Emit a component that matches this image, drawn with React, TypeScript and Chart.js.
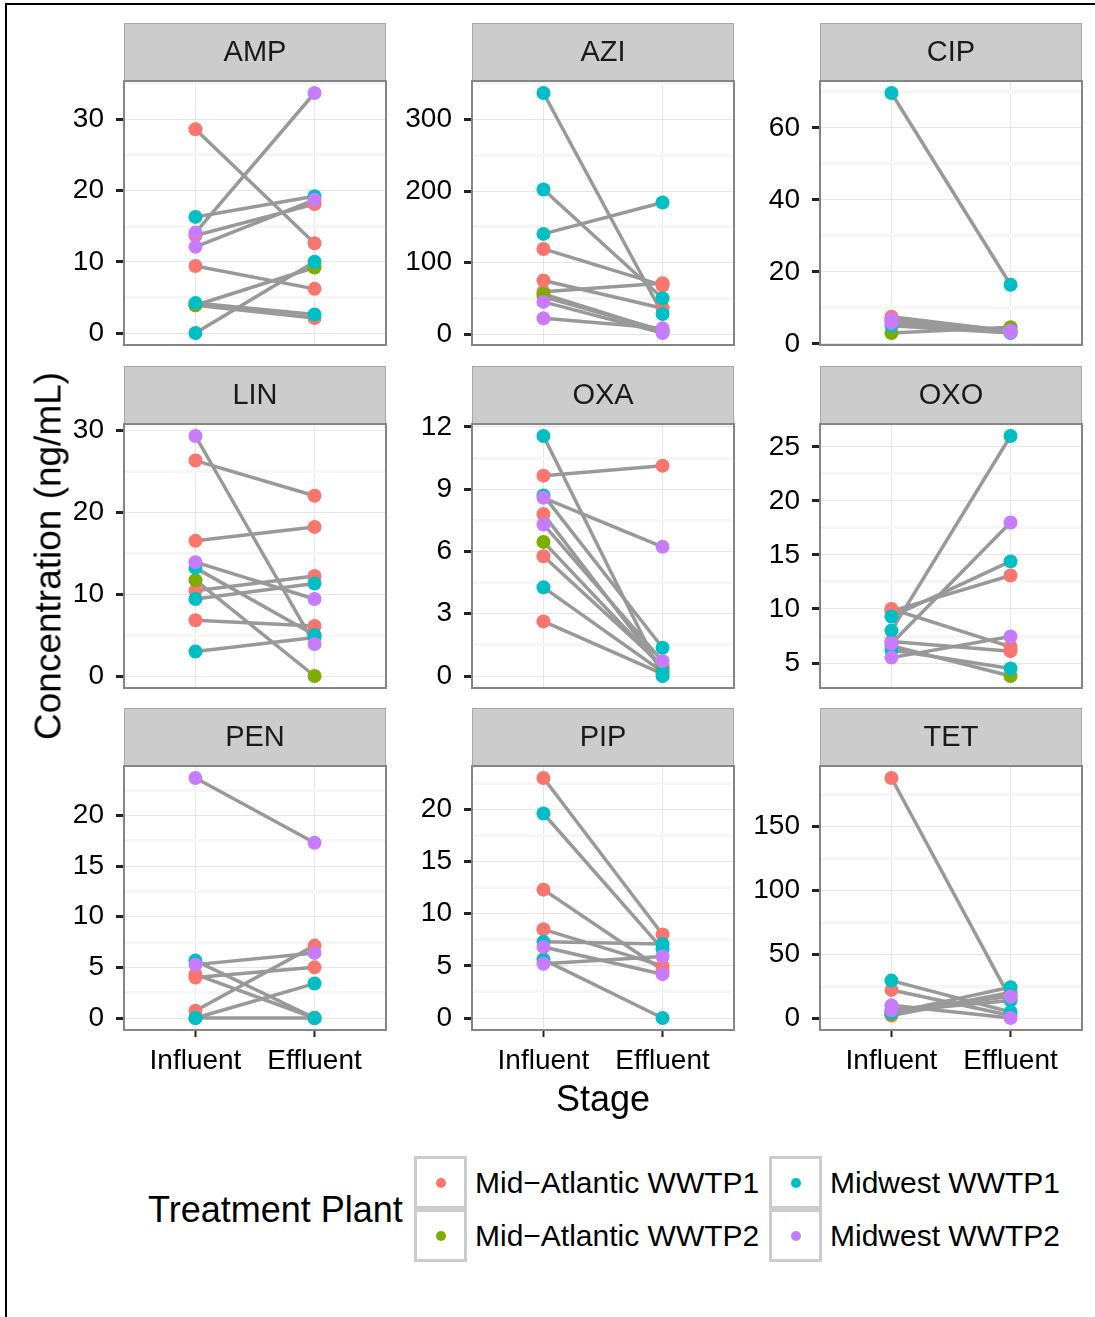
import React, { useEffect, useRef } from "react";
import { Chart, registerables } from "chart.js";

Chart.register(...registerables);

// ---- data -----------------------------------------------------------------
const plantNames = ["Mid\u2212Atlantic WWTP1", "Mid\u2212Atlantic WWTP2", "Midwest WWTP1", "Midwest WWTP2"];
const plantColors = ["#F8766D", "#7CAE00", "#00BFC4", "#C77CFF"];
const stageLabels = ["Influent", "Effluent"];
const antibiotics = ["AMP", "AZI", "CIP", "LIN", "OXA", "OXO", "PEN", "PIP", "TET"];
const tickSteps = [10, 100, 20, 10, 3, 5, 5, 5, 50];

// plant index (into plantNames), influent and effluent concentration per sample
const ampPlant = [0, 0, 0, 0, 1, 2, 2, 2, 3, 3];
const ampInfluent = [28.6, 13.7, 9.4, 3.9, 3.9, 16.3, 4.2, 0, 14.1, 12.1];
const ampEffluent = [12.6, 18.1, 6.2, 2.1, 9.2, 19.2, 2.6, 10.0, 33.7, 18.7];

const aziPlant = [0, 0, 0, 0, 1, 2, 2, 2, 3, 3];
const aziInfluent = [119, 75, 59, 52, 56, 337, 202, 140, 45, 22];
const aziEffluent = [68, 36, 71, 5, 4, 28, 50, 184, 1.5, 8];

const cipPlant = [0, 0, 1, 2, 2, 3, 3];
const cipInfluent = [7.5, 6.2, 3.0, 69.7, 5.0, 5.8, 6.8];
const cipEffluent = [3.5, 3.1, 4.6, 16.4, 3.0, 3.2, 3.7];

const linPlant = [0, 0, 0, 0, 1, 2, 2, 2, 3, 3];
const linInfluent = [26.3, 16.5, 10.4, 6.8, 11.7, 13.2, 9.4, 3.0, 29.3, 13.9];
const linEffluent = [22.0, 18.2, 12.2, 6.1, 0, 5.0, 11.3, 4.7, 3.9, 9.4];

const oxaPlant = [0, 0, 0, 0, 1, 2, 2, 2, 3, 3];
const oxaInfluent = [9.65, 7.8, 5.77, 2.63, 6.46, 11.56, 8.7, 4.27, 8.58, 7.3];
const oxaEffluent = [10.13, 0.3, 0.5, 0.1, 0.4, 0, 1.36, 0.2, 6.22, 0.72];

const oxoPlant = [0, 0, 0, 1, 2, 2, 2, 3, 3];
const oxoInfluent = [10.0, 9.8, 7.0, 6.6, 9.3, 8.0, 6.2, 6.8, 5.5];
const oxoEffluent = [6.5, 13.1, 6.1, 3.8, 14.4, 26.0, 4.5, 18.0, 7.45];

const penPlant = [0, 0, 0, 2, 2, 2, 3, 3];
const penInfluent = [4.3, 4.0, 0.72, 5.67, 0, 0, 23.7, 5.27];
const penEffluent = [0, 5.0, 7.15, 0, 3.4, 0, 17.3, 6.43];

const pipPlant = [0, 0, 0, 2, 2, 2, 3, 3];
const pipInfluent = [23.0, 12.3, 8.5, 19.6, 7.3, 5.6, 6.8, 5.2];
const pipEffluent = [8.0, 4.6, 5.0, 6.6, 7.1, 0, 4.2, 5.9];

const tetPlant = [0, 0, 0, 1, 2, 2, 2, 3, 3];
const tetInfluent = [188, 22, 2, 3, 29.3, 4, 5, 9.9, 6];
const tetEffluent = [15, 2, 20, 18, 4.7, 24.1, 13.8, 0, 16.9];

const panelPlants = [ampPlant, aziPlant, cipPlant, linPlant, oxaPlant, oxoPlant, penPlant, pipPlant, tetPlant];
const panelInfluent = [ampInfluent, aziInfluent, cipInfluent, linInfluent, oxaInfluent, oxoInfluent, penInfluent, pipInfluent, tetInfluent];
const panelEffluent = [ampEffluent, aziEffluent, cipEffluent, linEffluent, oxaEffluent, oxoEffluent, penEffluent, pipEffluent, tetEffluent];

// ---- layout & style ---------------------------------------------------------
const FONT = '"Liberation Sans", Arial, Helvetica, sans-serif';
const COL_LEFT = [124, 472, 820];
const ROW_TOP = [23, 366, 708];
const PANEL_W = 263;
const PANEL_H = 264;
const STRIP_H = 58;
const Y_AXIS_W = 100;
const RIGHT_PAD = 6;
const LINE_COLOR = "#999999";
const MAJOR_GRID = "#E6E6E6";
const MINOR_GRID = "#F6F6F6";

function framePlugin(label: string) {
  return {
    id: "facetFrame",
    afterDraw(chart: any) {
      const { ctx, chartArea } = chart;
      const { left, right, top, bottom } = chartArea;
      ctx.save();
      // strip header
      ctx.fillStyle = "#CCCCCC";
      ctx.fillRect(left, 0.5, right - left, STRIP_H - 0.5);
      ctx.strokeStyle = "#A8A8A8";
      ctx.lineWidth = 1;
      ctx.strokeRect(left + 0.5, 0.5, right - left - 1, STRIP_H - 1);
      ctx.fillStyle = "#1A1A1A";
      ctx.font = `29px ${FONT}`;
      ctx.textAlign = "center";
      ctx.textBaseline = "middle";
      ctx.fillText(label, (left + right) / 2, STRIP_H / 2 + 1);
      // panel border
      ctx.strokeStyle = "#858585";
      ctx.lineWidth = 2;
      ctx.strokeRect(left, top, right - left, bottom - top);
      ctx.restore();
    },
  };
}

function Panel({ index }: { index: number }) {
  const ref = useRef<HTMLCanvasElement>(null);
  const row = Math.floor(index / 3);
  const col = index % 3;
  const bottomRow = row === 2;
  const xAxisH = bottomRow ? 70 : 20;
  const width = Y_AXIS_W + PANEL_W + RIGHT_PAD;
  const height = STRIP_H + PANEL_H + xAxisH;

  useEffect(() => {
    if (!ref.current) return;
    const plant = panelPlants[index];
    const inf = panelInfluent[index];
    const eff = panelEffluent[index];
    const step = tickSteps[index];

    const all = [...inf, ...eff];
    const lo = Math.min(...all);
    const hi = Math.max(...all);
    const pad = (hi - lo) * 0.05;
    const yMin = lo - pad;
    const yMax = hi + pad;

    const majors: number[] = [];
    for (let k = Math.ceil(yMin / step); k * step <= yMax; k++) majors.push(k * step);
    const minors: number[] = [];
    for (let k = Math.floor(yMin / step) - 1; k <= Math.ceil(yMax / step); k++) {
      const v = (k + 0.5) * step;
      if (v >= yMin && v <= yMax) minors.push(v);
    }

    const lineSets = inf.map((v, i) => ({
      data: [
        { x: 1, y: v },
        { x: 2, y: eff[i] },
      ],
      showLine: true,
      borderColor: LINE_COLOR,
      borderWidth: 3.5,
      pointRadius: 0,
      order: 100,
      clip: false,
    }));

    const pointSets = plantColors.map((c, k) => ({
      data: plant.flatMap((pl, i) =>
        pl === k
          ? [
              { x: 1, y: inf[i] },
              { x: 2, y: eff[i] },
            ]
          : []
      ),
      showLine: false,
      pointRadius: 7,
      backgroundColor: c,
      pointBackgroundColor: c,
      borderWidth: 0,
      pointBorderWidth: 0,
      order: 10 - k,
      clip: false,
    }));

    const chart = new Chart(ref.current, {
      type: "scatter",
      data: { datasets: [...lineSets, ...pointSets] as any },
      plugins: [framePlugin(antibiotics[index])],
      options: {
        responsive: false,
        animation: false,
        devicePixelRatio: 1,
        events: [],
        layout: { padding: { top: STRIP_H, left: 0, right: RIGHT_PAD, bottom: 0 } },
        plugins: {
          legend: { display: false },
          tooltip: { enabled: false },
        },
        scales: {
          x: {
            type: "linear",
            min: 0.4,
            max: 2.6,
            afterBuildTicks: (a: any) => {
              a.ticks = [{ value: 1 }, { value: 2 }];
            },
            afterFit: (s: any) => {
              s.height = xAxisH;
              s.paddingLeft = 0;
              s.paddingRight = 0;
            },
            ticks: {
              display: bottomRow,
              callback: (v: any) => stageLabels[Math.round(Number(v)) - 1],
              font: { family: FONT, size: 28 },
              color: "#000",
              padding: 7,
              maxRotation: 0,
              autoSkip: false,
            },
            grid: {
              color: MAJOR_GRID,
              lineWidth: 1,
              drawTicks: bottomRow,
              tickColor: "#222",
              tickLength: 7,
              tickWidth: 2,
            },
            border: { display: false },
          },
          y: {
            type: "linear",
            position: "left",
            min: yMin,
            max: yMax,
            afterBuildTicks: (a: any) => {
              a.ticks = majors.map((v) => ({ value: v }));
            },
            afterFit: (s: any) => {
              s.width = Y_AXIS_W;
              s.paddingTop = 0;
              s.paddingBottom = 0;
            },
            ticks: {
              font: { family: FONT, size: 28 },
              color: "#000",
              padding: 12,
              callback: (v: any) => String(Math.round(Number(v) * 100) / 100),
            },
            grid: {
              color: MAJOR_GRID,
              lineWidth: 1,
              drawTicks: true,
              tickColor: "#222",
              tickLength: 8,
              tickWidth: 3,
            },
            border: { display: false },
          },
          yMinor: {
            type: "linear",
            position: "left",
            min: yMin,
            max: yMax,
            afterBuildTicks: (a: any) => {
              a.ticks = minors.map((v) => ({ value: v }));
            },
            afterFit: (s: any) => {
              s.width = 0;
              s.paddingTop = 0;
              s.paddingBottom = 0;
            },
            ticks: { display: false },
            grid: { color: MINOR_GRID, lineWidth: 3, drawTicks: false },
            border: { display: false },
          },
        } as any,
      },
    });
    return () => chart.destroy();
  }, [index]);

  return (
    <canvas
      ref={ref}
      width={width}
      height={height}
      style={{
        position: "absolute",
        left: COL_LEFT[col] - Y_AXIS_W,
        top: ROW_TOP[row],
        width,
        height,
      }}
    />
  );
}

const textBase: React.CSSProperties = {
  position: "absolute",
  fontFamily: FONT,
  color: "#000",
  lineHeight: 1,
  whiteSpace: "nowrap",
};

function LegendKey({ plant, left, top }: { plant: number; left: number; top: number }) {
  return (
    <>
      <div
        style={{
          position: "absolute",
          left,
          top,
          width: 53,
          height: 53,
          boxSizing: "border-box",
          border: "3px solid #CCCCCC",
          background: "#fff",
        }}
      >
        <div
          style={{
            position: "absolute",
            left: 26.5 - 3 - 5,
            top: 26.5 - 3 - 5,
            width: 10,
            height: 10,
            borderRadius: "50%",
            background: plantColors[plant],
          }}
        />
      </div>
      <div style={{ ...textBase, left: left + 61, top: top + 27, fontSize: 30, transform: "translateY(-50%)" }}>
        {plantNames[plant]}
      </div>
    </>
  );
}

export default function App() {
  return (
    <div
      style={{
        position: "absolute",
        left: 0,
        top: 0,
        width: 1095,
        height: 1317,
        background: "#fff",
        overflow: "hidden",
      }}
    >
      <div
        style={{
          position: "absolute",
          left: 5,
          top: 3,
          right: 0,
          bottom: 0,
          borderTop: "2px solid #000",
          borderLeft: "2px solid #000",
        }}
      />
      {antibiotics.map((_, i) => (
        <Panel key={i} index={i} />
      ))}
      <div
        style={{
          ...textBase,
          left: 48,
          top: 556,
          fontSize: 37,
          transform: "translate(-50%, -50%) rotate(-90deg)",
        }}
      >
        Concentration (ng/mL)
      </div>
      <div style={{ ...textBase, left: 603, top: 1099, fontSize: 36, transform: "translate(-50%, -50%)" }}>Stage</div>
      <div style={{ ...textBase, left: 148, top: 1210, fontSize: 36, transform: "translateY(-50%)" }}>Treatment Plant</div>
      <LegendKey plant={0} left={414} top={1156} />
      <LegendKey plant={1} left={414} top={1209} />
      <LegendKey plant={2} left={769} top={1156} />
      <LegendKey plant={3} left={769} top={1209} />
    </div>
  );
}
